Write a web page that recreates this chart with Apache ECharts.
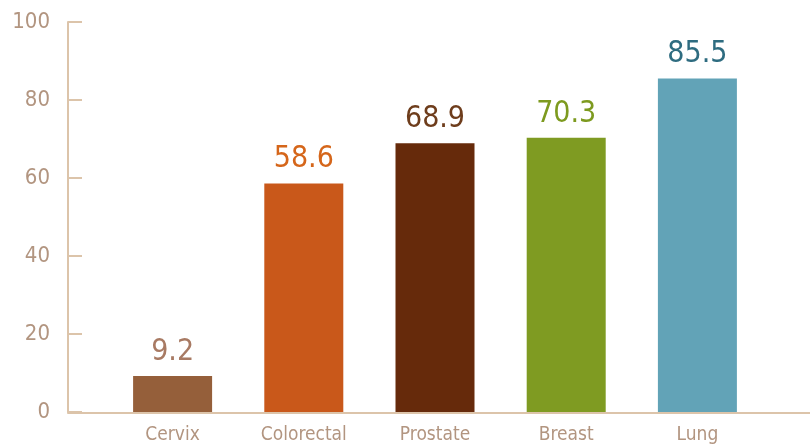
<!DOCTYPE html>
<html>
<head>
<meta charset="utf-8">
<script src="https://cdn.jsdelivr.net/npm/echarts@6/dist/echarts.min.js"></script>
<style>
  html, body { margin: 0; padding: 0; background: #fff; }
  #myChart { width: 810px; height: 445px; }
</style>
</head>
<body>
<div id="myChart"></div>
<script>
const categories = ['Cervix', 'Colorectal', 'Prostate', 'Breast', 'Lung'];
const values = [9.2, 58.6, 68.9, 70.3, 85.5];
const barColors = ['#955f3a', '#c9581a', '#662a0b', '#7f9b22', '#62a3b7'];
const labelColors = ['#a87a63', '#d5661a', '#6e3d1c', '#7d9a1f', '#2e6c80'];
const yTicks = [0, 20, 40, 60, 80, 100];

const font = '"DejaVu Sans Condensed", "Liberation Sans Narrow", Lato, sans-serif';
const axisColor = '#dcc4aa';
const textColor = '#b29580';

const myChart = echarts.init(document.getElementById('myChart'));

const option = {
    animation: false,
    grid: [
        { left: 107, right: 47, top: 22, bottom: 32 },
        // wider grid only used to stretch the baseline across the page
        { left: 68, right: 0, top: 22, bottom: 32 }
    ],
    xAxis: [
        {
            type: 'category',
            gridIndex: 0,
            data: categories,
            axisLine: { show: false },
            axisTick: { show: false },
            axisLabel: {
                color: textColor,
                fontFamily: font,
                fontSize: 19,
                margin: 14
            }
        },
        {
            type: 'value',
            gridIndex: 1,
            min: 0,
            max: 1,
            axisLine: { show: true, lineStyle: { color: axisColor, width: 2 } },
            axisTick: { show: false },
            axisLabel: { show: false },
            splitLine: { show: false }
        }
    ],
    yAxis: [
        {
            type: 'value',
            gridIndex: 0,
            min: yTicks[0],
            max: yTicks[yTicks.length - 1],
            interval: 20,
            offset: 39,
            axisLine: { show: true, lineStyle: { color: axisColor, width: 2 } },
            axisTick: { show: true, inside: true, length: 14, lineStyle: { color: axisColor, width: 2 } },
            axisLabel: {
                color: textColor,
                fontFamily: font,
                fontSize: 22,
                margin: 18
            },
            splitLine: { show: false }
        },
        {
            type: 'value',
            gridIndex: 1,
            show: false
        }
    ],
    series: [
        {
            type: 'bar',
            xAxisIndex: 0,
            yAxisIndex: 0,
            barWidth: 79,
            data: values.map((v, i) => ({
                value: v,
                itemStyle: { color: barColors[i] },
                label: { color: labelColors[i] }
            })),
            label: {
                show: true,
                position: 'top',
                distance: 9,
                fontFamily: font,
                fontSize: 30
            }
        }
    ]
};

myChart.setOption(option);
</script>
</body>
</html>
